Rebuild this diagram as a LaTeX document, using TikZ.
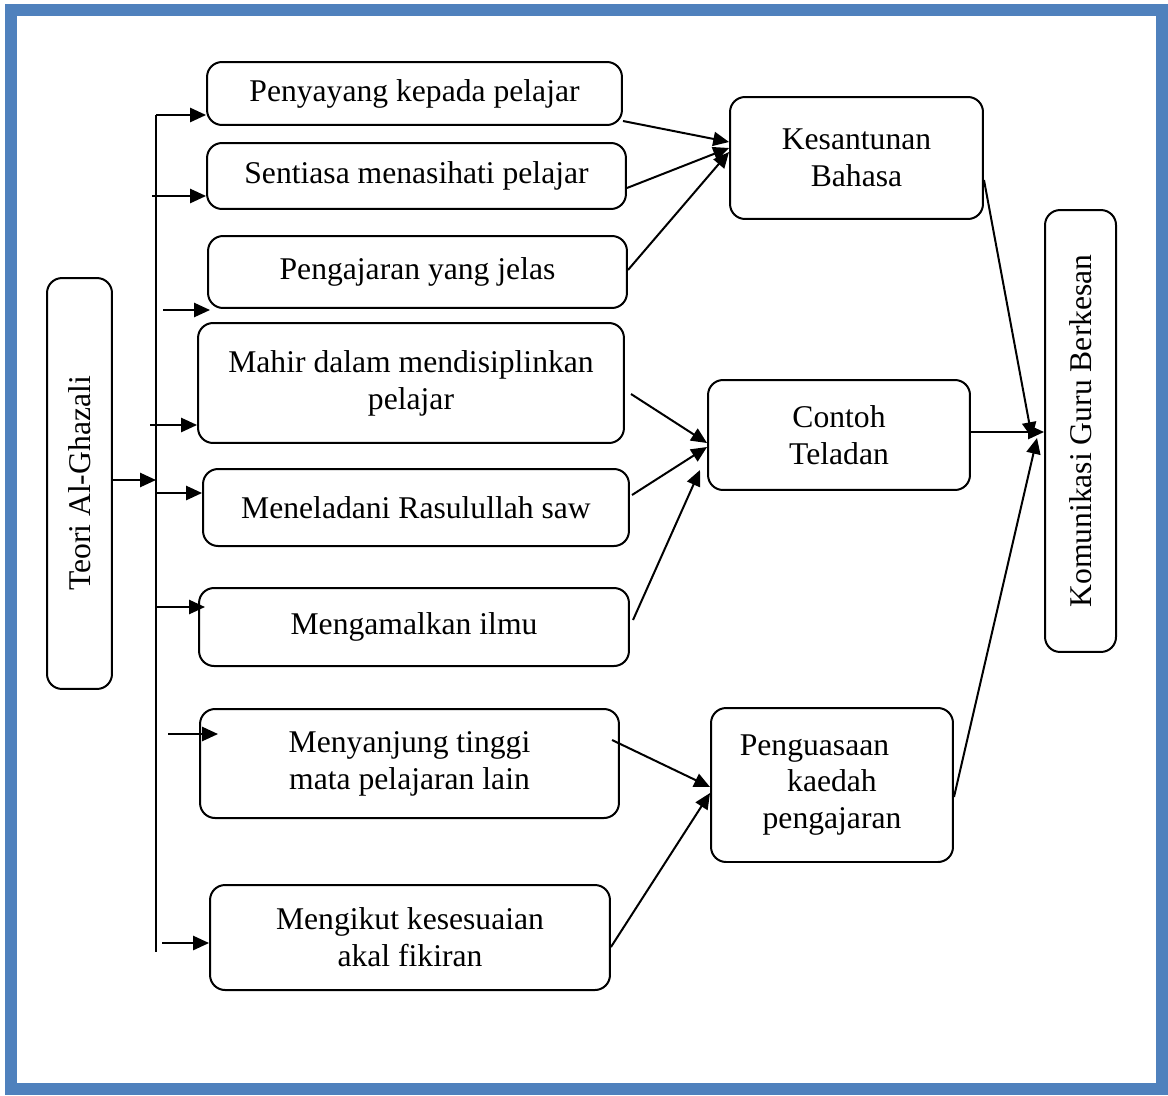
\documentclass[tikz,border=0pt]{standalone}
\usepackage{fontspec}
\setmainfont{Liberation Serif}
\usepackage{tikz}
\usetikzlibrary{arrows.meta, positioning}
\definecolor{framecol}{HTML}{4F81BD}
\tikzset{
  boxnode/.style = {draw=black, line width=0.04cm, rounded corners=0.3cm,
    align=center, inner sep=0pt, font=\fontsize{18}{21}\selectfont},
  sidenode/.style = {boxnode, rotate=90}
}

\begin{document}
\begin{tikzpicture}[x=0.02cm, y=-0.02cm, line width=0.04cm,
  >={Triangle[length=9pt,width=8pt]}]
\useasboundingbox (0,0) rectangle (1168,1095);
\draw[framecol, line width=0.24cm] (11,10.5) rectangle (1162,1089);

% left column
\node [sidenode, minimum width=8.22cm, minimum height=1.3cm] (teori) at (79.5,483.5) {Teori Al-Ghazali};
\node [boxnode, minimum width=8.3cm, minimum height=1.26cm] (pny) at (414.5,93.5) {Penyayang kepada pelajar};
\node [boxnode, minimum width=8.38cm, minimum height=1.32cm] (snt) at (416.5,176) {Sentiasa menasihati pelajar};
\node [boxnode, minimum width=8.38cm, minimum height=1.44cm] (pgj) at (417.5,272) {Pengajaran yang jelas};
\node [boxnode, minimum width=8.52cm, minimum height=2.4cm] (mhr) at (411,383) {Mahir dalam mendisiplinkan\\pelajar};
\node [boxnode, minimum width=8.52cm, minimum height=1.54cm] (mnl) at (416,507.5) {Meneladani Rasulullah saw};
\node [boxnode, minimum width=8.6cm, minimum height=1.56cm] (mgm) at (414,627) {Mengamalkan ilmu};
\node [boxnode, minimum width=8.38cm, minimum height=2.18cm] (mnj) at (409.5,763.5) {Menyanjung tinggi\\mata pelajaran lain};
\node [boxnode, minimum width=8.0cm, minimum height=2.1cm] (mgk) at (410,937.5) {Mengikut kesesuaian\\akal fikiran};

% middle and right column
\node [boxnode, minimum width=5.06cm, minimum height=2.44cm] (kes) at (856.5,158) {Kesantunan\\Bahasa};
\node [boxnode, minimum width=5.24cm, minimum height=2.2cm] (cth) at (839,435) {Contoh\\Teladan};
\node [boxnode, minimum width=4.84cm, minimum height=3.08cm] (pgs) at (832,785) {Penguasaan\hspace*{0.7cm}\\kaedah\\pengajaran};
\node [sidenode, minimum width=8.84cm, minimum height=1.42cm] (kom) at (1080.5,431) {Komunikasi Guru Berkesan};

% bus
\coordinate (bt) at (156,115);
\coordinate (bb) at (156,952);
\draw (bt) -- (bb);
\draw[->] (teori.south |- 0,480) -- (156,480);
\draw[->] (bt) -- (bt -| pny.west);
\draw[->] (152,196) -- (152,196 -| snt.west);
\draw[->] (163,310) -- (210,310);
\draw[->] (150,425) -- (150,425 -| mhr.west);
\draw[->] (156,493) -- (156,493 -| mnl.west);
\draw[->] (156,607) -- (205,607);
\draw[->] (168,734) -- (218,734);
\draw[->] (162,943) -- (162,943 -| mgk.west);

% to middle column
\draw[->] (pny.east |- 0,121) -- (kes.west |- 0,142);
\draw[->] (snt.east |- 0,188) -- (kes.west |- 0,148);
\draw[->] (pgj.east |- 0,270) -- (kes.west |- 0,152);
\draw[->] (631,394) -- (cth.west |- 0,443);
\draw[->] (632,495) -- (cth.west |- 0,447);
\draw[->] (633,620) -- (700,470);
\draw[->] (612,740) -- (pgs.west |- 0,787);
\draw[->] (mgk.east |- 0,947) -- (pgs.west |- 0,793);

% to right column
\draw[->] (kes.east |- 0,180) -- (1032,438);
\draw[->] (cth.east |- 0,432) -- (kom.north |- 0,432);
\draw[->] (pgs.east |- 0,797) -- (1037,438);
\end{tikzpicture}
\end{document}
